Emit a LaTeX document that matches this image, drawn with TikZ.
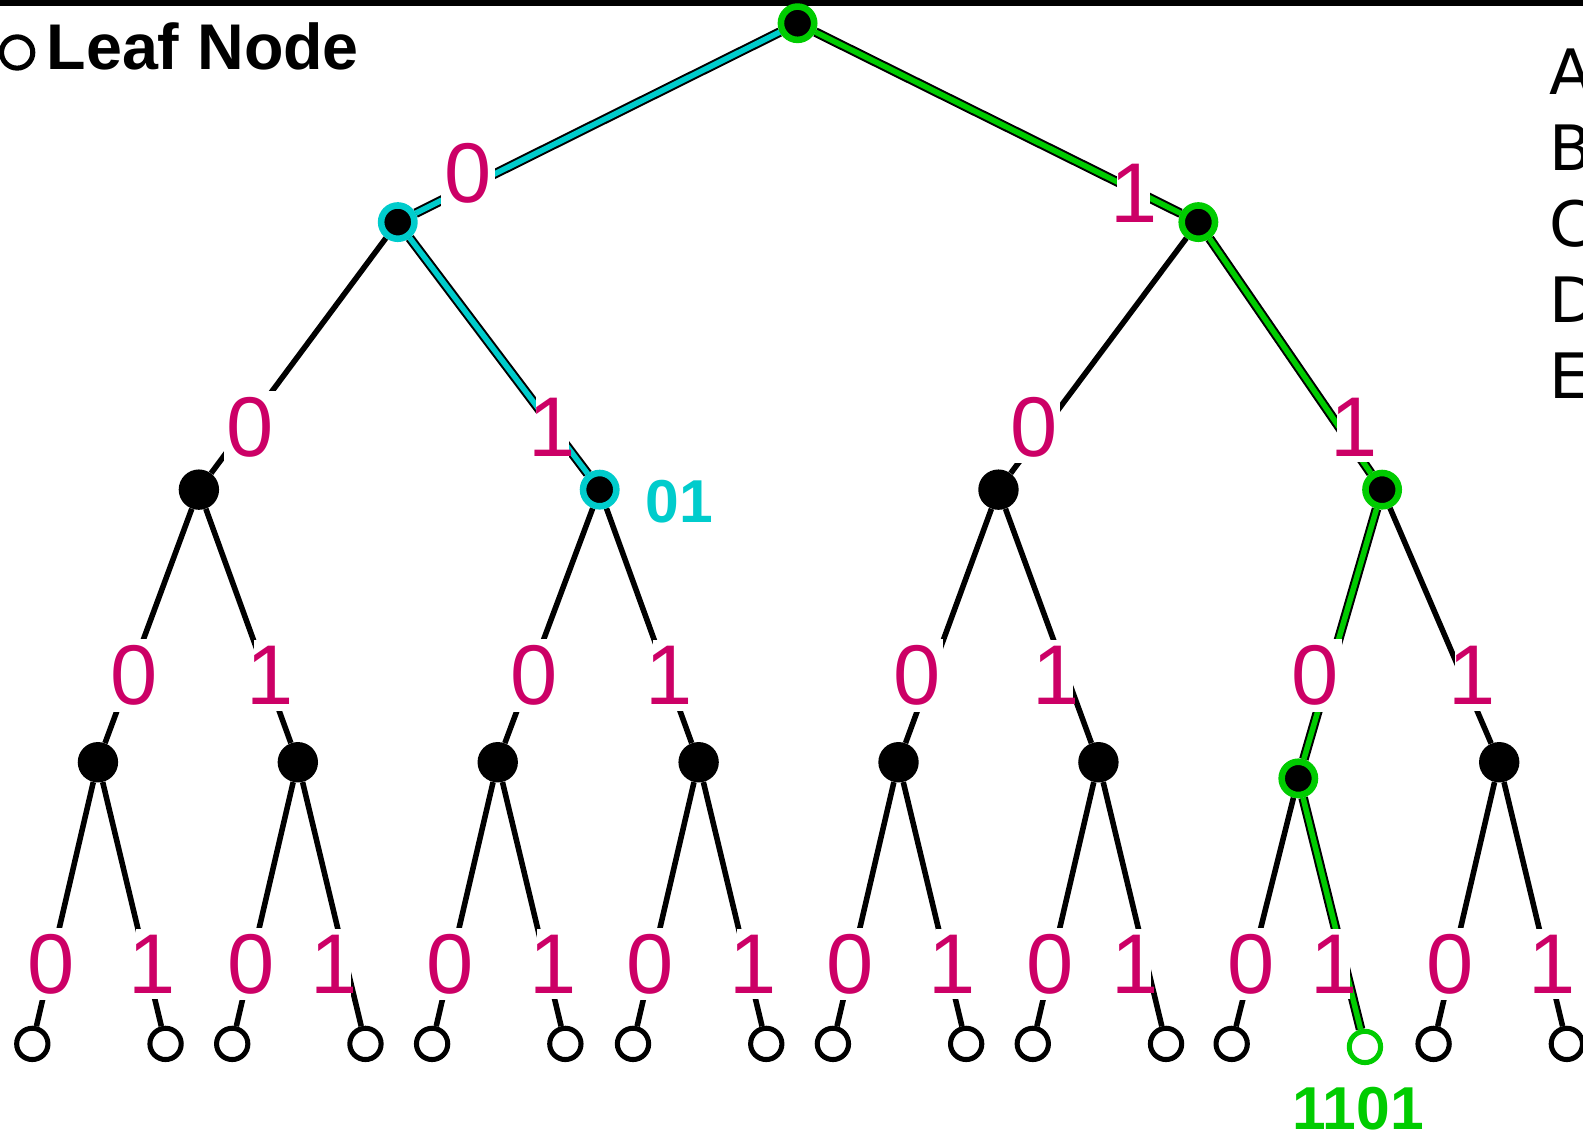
\documentclass[tikz,border=0pt]{standalone}
\usepackage{fontspec}
\setmainfont{Liberation Sans}
\newfontfamily\dvfont{DejaVu Sans}
\definecolor{mag}{RGB}{204,0,102}
\definecolor{cy}{RGB}{0,204,204}
\definecolor{gr}{RGB}{0,204,0}
\pgfdeclarelayer{bg}
\pgfsetlayers{bg,main}
\begin{document}
\begin{tikzpicture}[x=1pt,y=-1pt,
  inode/.style={circle,fill=black,minimum size=40pt,inner sep=0pt},
  hnode/.style={circle,fill=black,draw=#1,line width=6.5pt,minimum size=33pt,inner sep=0pt},
  leaf/.style={circle,draw=#1,fill=white,line width=5pt,minimum size=31pt,inner sep=0pt},
  leaf/.default=black,
  blk/.style={line width=5.5pt},
  hedge/.style={draw=#1,line width=5.5pt,preaction={draw=black,line width=9.5pt}},
  bit/.style={font=\fontsize{84}{84}\selectfont,text=mag,fill=white,anchor=base,inner xsep=3pt,inner ysep=6pt},
  one/.style={bit,inner xsep=-7pt},
  tag/.style={font=\bfseries\fontsize{60}{60}\selectfont,anchor=base west,inner sep=0pt},
]
\useasboundingbox (0,0) rectangle (1568,1121);
\clip (0,0) rectangle (1568,1121);
\begin{pgfonlayer}{bg}
\fill[white] (0,0) rectangle (1568,1121);
\end{pgfonlayer}
\fill[black] (0,0) rectangle (1568,5.6);

% internal nodes
\node[hnode=gr] (r) at (790,23) {};
\node[hnode=cy] (n0) at (394,220) {};
\node[hnode=gr] (n1) at (1187,220) {};
\node[inode] (n00) at (197,485) {};
\node[hnode=cy] (n01) at (594,485) {};
\node[inode] (n10) at (989,485) {};
\node[hnode=gr] (n11) at (1369,485) {};
\foreach \n/\x in {000/97,001/295,010/493,011/692,100/890,101/1088,111/1485}
  \node[inode] (n\n) at (\x,755) {};
\node[hnode=gr] (n110) at (1286,771) {};

% leaves
\foreach \n/\x in {000/97,001/295,010/493,011/692,100/890,101/1088,111/1485} {
  \node[leaf] (n\n0) at (\x-65,1034) {};
  \node[leaf] (n\n1) at (\x+67,1034) {};
}
\node[leaf] (n1100) at (1220,1034) {};
\node[leaf=gr] (n1101) at (1352,1037) {};

% edges
\begin{pgfonlayer}{bg}
\draw[hedge=cy] (r) -- (n0);
\draw[hedge=cy] (n0) -- (n01);
\draw[hedge=gr] (r) -- (n1);
\draw[hedge=gr] (n1) -- (n11);
\draw[hedge=gr] (n11) -- (n110);
\draw[hedge=gr] (n110) -- (n1101);
\draw[blk] (n0) -- (n00);
\draw[blk] (n1) -- (n10);
\draw[blk] (n00) -- (n000);
\draw[blk] (n00) -- (n001);
\draw[blk] (n01) -- (n010);
\draw[blk] (n01) -- (n011);
\draw[blk] (n10) -- (n100);
\draw[blk] (n10) -- (n101);
\draw[blk] (n11) -- (n111);
\foreach \n in {000,001,010,011,100,101,111} {
  \draw[blk] (n\n) -- (n\n0);
  \draw[blk] (n\n) -- (n\n1);
}
\draw[blk] (n110) -- (n1100);
\end{pgfonlayer}

% bit labels
\node[bit] (b0) at (463.5,201) {0};
\node[one] (b1) at (1123,220) {1};
\node[bit] (b00) at (248,452) {0};
\node[one] (b01) at (547,452) {1};
\node[bit] (b10) at (1024,452) {0};
\node[one] (b11) at (1341,452) {1};
\foreach \n/\x in {000/133,010/529,100/908,110/1303}
  \node[bit] (b\n) at (\x,698) {0};
\foreach \n/\x in {001/268,011/663,101/1046,111/1458}
  \node[one] (b\n) at (\x,698) {1};
\foreach \n/\x in {0000/51,0010/249,0100/446,0110/644,1000/842,1010/1040,1100/1239,1110/1436}
  \node[bit] (b\n) at (\x,984) {0};
\foreach \n/\x in {0001/151,0011/331,0101/548,0111/746,1001/943,1011/1124,1101/1321,1111/1537}
  \node[one] (b\n) at (\x,984) {1};

% path tags
\node[tag,text=cy] (t01) at (639,518) {01};
\node[tag,text=gr] (t1101) at (1280,1119) {1101};

% legend
\node[leaf] (legc) at (17,52) {};
\node[font=\bfseries\fontsize{64}{64}\selectfont,anchor=base west,inner sep=0pt] (legt) at (46,69) {Leaf Node};

% right letters
\foreach \l [count=\i from 0] in {A,B,C,D,E}
  \node[font=\dvfont\fontsize{62}{62}\selectfont,anchor=base west,inner sep=0pt] (let\l) at (1535,94+75.1*\i) {\l};
\end{tikzpicture}
\end{document}
